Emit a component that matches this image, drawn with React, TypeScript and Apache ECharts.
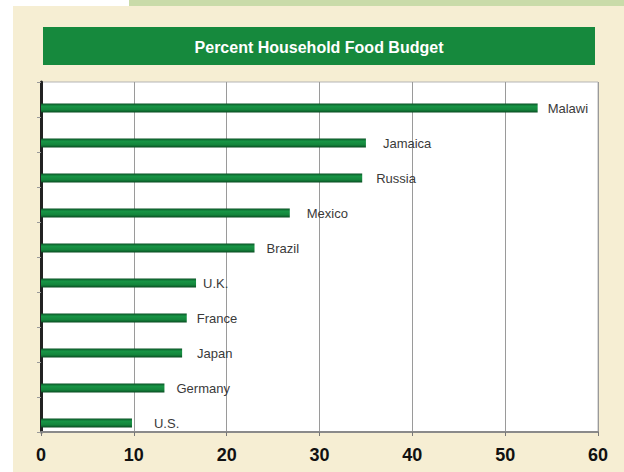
import React, { useEffect, useRef } from "react";
import * as echarts from "echarts";

const countries = ["Malawi", "Jamaica", "Russia", "Mexico", "Brazil", "U.K.", "France", "Japan", "Germany", "U.S."];
const percents = [53.5, 35, 34.6, 26.8, 23, 16.7, 15.7, 15.2, 13.3, 9.8];
const chartTitle = "Percent Household Food Budget";
// label gaps (style only)
const labelGaps = [10, 17, 14, 17, 12, 7, 10, 15, 12, 22];

export default function App() {
  const ref = useRef<HTMLDivElement>(null);
  useEffect(() => {
    const chart = echarts.init(ref.current!, null, { renderer: "svg" });
    const barFill = new echarts.graphic.LinearGradient(0, 0, 0, 1, [
      { offset: 0, color: "#0a5225" },
      { offset: 0.3, color: "#189546" },
      { offset: 0.7, color: "#14853c" },
      { offset: 1, color: "#094a21" },
    ]);
    chart.setOption({
      animation: false,
      backgroundColor: "#ffffff",
      graphic: [
        { type: "rect", z: -10, shape: { x: 13, y: 6, width: 611, height: 466 }, style: { fill: "#f6eed3" } },
        { type: "rect", z: -10, shape: { x: 129, y: 0, width: 495, height: 6 }, style: { fill: "#c9dba9" } },
        { type: "rect", z: 5, shape: { x: 43, y: 27, width: 552, height: 38 }, style: { fill: "#16893d" } },
        {
          type: "text",
          z: 6,
          x: 319,
          y: 47,
          style: {
            text: chartTitle,
            fill: "#ffffff",
            fontSize: 16,
            fontWeight: "bold",
            fontFamily: "Liberation Sans, Arial, sans-serif",
            align: "center",
            verticalAlign: "middle",
          },
        },
      ],
      grid: {
        left: 41,
        right: 26,
        top: 82,
        bottom: 40,
        show: true,
        backgroundColor: "#ffffff",
        borderColor: "#b5b5b5",
        borderWidth: 1,
      },
      xAxis: {
        type: "value",
        min: 0,
        max: 60,
        interval: 10,
        axisLine: { show: true, lineStyle: { color: "#8a8a8a", width: 2 } },
        axisTick: { show: true, length: 4, lineStyle: { color: "#777" } },
        axisLabel: {
          color: "#111",
          fontSize: 18,
          fontWeight: "bold",
          fontFamily: "Liberation Sans, Arial, sans-serif",
          margin: 14,
        },
        splitLine: { show: true, lineStyle: { color: "#9a9a9a", width: 1 } },
      },
      yAxis: {
        type: "category",
        data: countries,
        inverse: true,
        axisLine: { show: true, lineStyle: { color: "#222", width: 3 } },
        axisTick: { show: true, length: 4, lineStyle: { color: "#999" } },
        axisLabel: { show: false },
        splitLine: { show: false },
      },
      series: [
        {
          type: "bar",
          silent: true,
          barWidth: 9,
          barGap: "89%",
          itemStyle: { color: "rgba(0,0,0,0)" },
          data: countries.map(() => 0),
        },
        {
          type: "bar",
          barWidth: 9,
          barGap: "89%",
          itemStyle: { color: barFill },
          label: {
            show: true,
            position: "right",
            formatter: "{b}",
            color: "#3a3a3a",
            fontSize: 13,
            fontFamily: "Liberation Sans, Arial, sans-serif",
          },
          data: percents.map((v, i) => ({ value: v, label: { distance: labelGaps[i] } })),
        },
      ],
    });
    return () => chart.dispose();
  }, []);
  return <div ref={ref} style={{ position: "absolute", left: 0, top: 0, width: 624, height: 472 }} />;
}
